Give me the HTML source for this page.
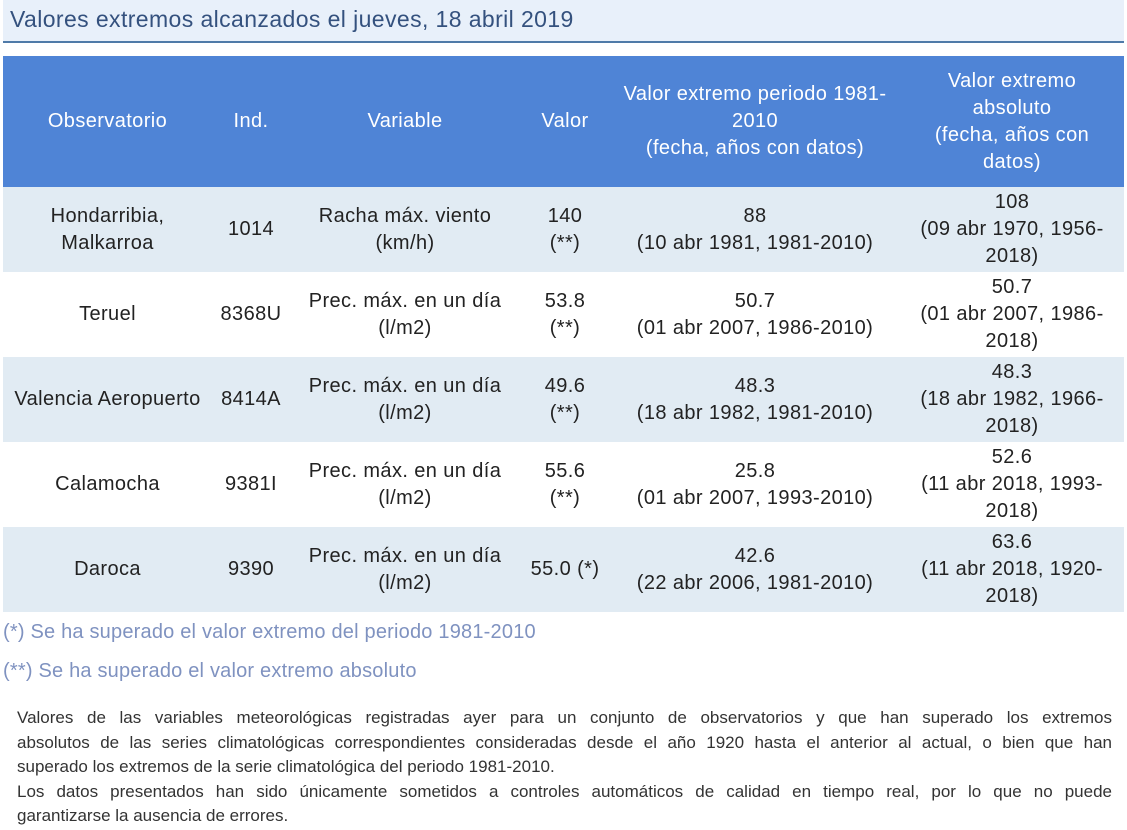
<!DOCTYPE html>
<html><head><meta charset="utf-8"><style>
body{margin:0;width:1127px;height:830px;background:#fff;font-family:"Liberation Sans",sans-serif;position:relative;overflow:hidden;color:#222}
#title{position:absolute;left:3px;top:0;width:1121px;height:43px;background:#e8f0fa;border-bottom:2px solid #4f7aa8;box-sizing:border-box;font-size:23px;letter-spacing:0.4px;color:#34517e;padding:6px 0 0 7px}
table{position:absolute;left:3px;top:56px;width:1121px;border-collapse:collapse;table-layout:fixed;font-size:20px;letter-spacing:0.4px}
th{background:#4f84d6;color:#fff;font-weight:normal;height:131px;line-height:27px;text-align:center;padding:0}
td{height:85px;text-align:center;line-height:27px;padding:0}
tr.l td{background:#e1ebf3}
.fn{position:absolute;left:3px;font-size:20px;letter-spacing:0.2px;color:#7f92c0}
#desc{position:absolute;left:17px;top:706px;width:1095px;font-size:17px;line-height:24.5px;color:#333}
#desc div{text-align:justify;text-align-last:justify;white-space:nowrap;overflow:visible}
#desc div.e{text-align-last:left}
</style></head><body>
<div id="title">Valores extremos alcanzados el jueves, 18 abril 2019</div>
<table>
<colgroup><col style="width:209px"><col style="width:78px"><col style="width:230px"><col style="width:90px"><col style="width:290px"><col style="width:224px"></colgroup>
<tr><th>Observatorio</th><th>Ind.</th><th>Variable</th><th>Valor</th><th>Valor extremo periodo 1981-<br>2010<br>(fecha, años con datos)</th><th>Valor extremo<br>absoluto<br>(fecha, años con<br>datos)</th></tr>
<tr class="l"><td>Hondarribia,<br>Malkarroa</td><td>1014</td><td>Racha máx. viento<br>(km/h)</td><td>140<br>(**)</td><td>88<br>(10 abr 1981, 1981-2010)</td><td>108<br>(09 abr 1970, 1956-<br>2018)</td></tr>
<tr><td>Teruel</td><td>8368U</td><td>Prec. máx. en un día<br>(l/m2)</td><td>53.8<br>(**)</td><td>50.7<br>(01 abr 2007, 1986-2010)</td><td>50.7<br>(01 abr 2007, 1986-<br>2018)</td></tr>
<tr class="l"><td>Valencia Aeropuerto</td><td>8414A</td><td>Prec. máx. en un día<br>(l/m2)</td><td>49.6<br>(**)</td><td>48.3<br>(18 abr 1982, 1981-2010)</td><td>48.3<br>(18 abr 1982, 1966-<br>2018)</td></tr>
<tr><td>Calamocha</td><td>9381I</td><td>Prec. máx. en un día<br>(l/m2)</td><td>55.6<br>(**)</td><td>25.8<br>(01 abr 2007, 1993-2010)</td><td>52.6<br>(11 abr 2018, 1993-<br>2018)</td></tr>
<tr class="l"><td>Daroca</td><td>9390</td><td>Prec. máx. en un día<br>(l/m2)</td><td>55.0 (*)</td><td>42.6<br>(22 abr 2006, 1981-2010)</td><td>63.6<br>(11 abr 2018, 1920-<br>2018)</td></tr>
</table>
<div class="fn" style="top:621px">(*) Se ha superado el valor extremo del periodo 1981-2010</div>
<div class="fn" style="top:660px">(**) Se ha superado el valor extremo absoluto</div>
<div id="desc">
<div>Valores de las variables meteorológicas registradas ayer para un conjunto de observatorios y que han superado los extremos</div>
<div>absolutos de las series climatológicas correspondientes consideradas desde el año 1920 hasta el anterior al actual, o bien que han</div>
<div class="e">superado los extremos de la serie climatológica del periodo 1981-2010.</div>
<div>Los datos presentados han sido únicamente sometidos a controles automáticos de calidad en tiempo real, por lo que no puede</div>
<div class="e">garantizarse la ausencia de errores.</div>
</div>
</body></html>
